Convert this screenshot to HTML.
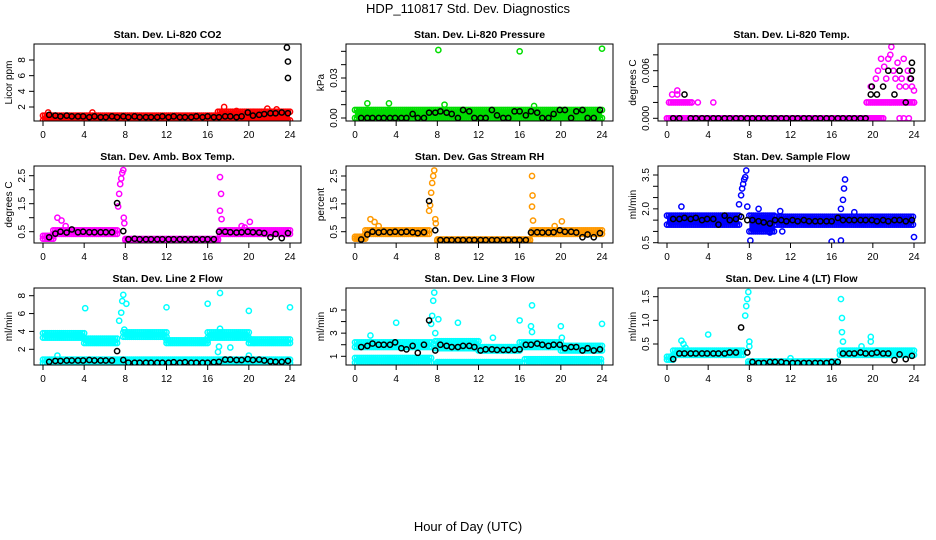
<!DOCTYPE html>
<html><head><meta charset="utf-8"><style>
html,body{margin:0;padding:0;background:#fff;}
svg{display:block;font-family:"Liberation Sans",sans-serif;}
</style></head><body>
<svg id="chart" width="936" height="540" viewBox="0 0 936 540">
<text x="468" y="13" text-anchor="middle" font-size="13">HDP_110817  Std. Dev. Diagnostics</text>
<text x="468" y="531" text-anchor="middle" font-size="13">Hour of Day (UTC)</text>
</svg>
<script>
// shared hours for black (hourly) series
const blackHours = [0.6,1.2,1.7,2.3,2.8,3.4,3.9,4.5,5.0,5.6,6.1,6.7,7.2,7.8,8.3,8.9,9.4,10.0,10.5,11.1,11.6,12.2,12.7,13.3,13.8,14.4,14.9,15.5,16.0,16.6,17.1,17.7,18.2,18.8,19.3,19.9,20.4,21.0,21.5,22.1,22.6,23.2,23.8];
const xTicks = [0,4,8,12,16,20,24];

// Panel 1 CO2
const co2Bands = [[0,17,0.3,0.9],[17,24,0.3,1.4]];
const co2Spikes = [[0.5,1.3],[4.8,1.3],[17.6,2.0],[18.8,1.5],[21.8,1.8],[22.7,1.7]];
const co2Black = [1.0,0.9,0.8,0.9,0.8,0.8,0.8,0.7,0.8,0.7,0.7,0.8,0.7,0.8,0.7,0.8,0.7,0.7,0.7,0.7,0.8,0.7,0.8,0.7,0.7,0.7,0.8,0.7,0.8,0.7,0.7,0.8,0.8,0.7,0.8,1.3,0.9,1.0,1.1,1.2,1.2,1.3,1.2];
const co2BlackExtra = [[23.7,9.6],[23.8,7.8],[23.8,5.7]];
// Panel 2 Pressure
const presBands = [[0,24,0.0,0.006]];
const presSpikes = [[8.1,0.051],[16,0.050],[24,0.052],[1.2,0.011],[3.3,0.011],[8.7,0.010],[17.4,0.009]];
const presBlack = [0,0,0,0,0,0,0,0,0,0.003,0,0,0.004,0.004,0.005,0.004,0.003,0,0.006,0.005,0,0,0,0.006,0.002,0,0,0.005,0.005,0.002,0.005,0.004,0,0,0.003,0.006,0.006,0,0.005,0.006,0,0,0.006];
const presBlackExtra = [];
// Panel 3 Temp
const tempBands = [[0,21,0,0],[0.2,2.4,0.002,0.002],[19.4,24,0.002,0.002]];
const tempSpikes = [[0.5,0.003],[1.0,0.0035],[1.0,0.003],[3.0,0.002],[4.5,0.002],[19.8,0.004],[20.3,0.005],[20.5,0.006],[20.8,0.0075],[21.1,0.0065],[21.3,0.005],[21.5,0.0075],[21.7,0.008],[21.8,0.009],[22.0,0.006],[22.2,0.005],[22.4,0.007],[22.6,0.004],[22.8,0.005],[23.0,0.0075],[23.2,0.004],[23.4,0.006],[23.6,0.005],[23.8,0.004],[24.0,0.0035],[22.6,0],[23.0,0],[23.5,0],[24,0.002]];
const tempBlack = [0,0,0.003,0,0,0,0,0,0,0,0,0,0,0,0,0,0,0,0,0,0,0,0,0,0,0,0,0,0,0,0,0,0,0,0,0.004,0.003,0.004,0.006,0.003,0.006,0.002,0.006];
const tempBlackExtra = [[23.8,0.007],[23.7,0.005],[19.8,0.003]];
// Panel 4 Amb box temp
const ambBands = [[0,1,0.25,0.35],[1,7.3,0.42,0.55],[8,17,0.2,0.24],[17.2,24,0.42,0.55]];
const ambSpikes = [[1.4,1.0],[1.8,0.9],[2.2,0.7],[7.3,1.4],[7.4,1.85],[7.5,2.2],[7.6,2.4],[7.7,2.6],[7.8,2.7],[7.85,1.0],[7.9,0.8],[17.2,2.45],[17.3,1.85],[17.2,1.25],[17.35,0.95],[19.3,0.7],[19.6,0.65],[20.1,0.85]];
const ambBlack = [0.3,0.43,0.5,0.47,0.58,0.48,0.5,0.48,0.48,0.48,0.48,0.48,1.52,0.52,0.23,0.25,0.23,0.23,0.23,0.23,0.23,0.23,0.23,0.23,0.23,0.23,0.23,0.23,0.23,0.23,0.5,0.5,0.48,0.47,0.48,0.5,0.48,0.47,0.45,0.3,0.42,0.27,0.45];
const ambBlackExtra = [];
// Panel 5 RH
const rhBands = [[0,1,0.25,0.32],[1,7.3,0.42,0.55],[8,17,0.18,0.22],[17.2,24,0.42,0.55]];
const rhSpikes = [[1.5,0.95],[1.9,0.85],[2.3,0.7],[7.2,1.25],[7.3,1.45],[7.4,1.9],[7.5,2.25],[7.6,2.5],[7.7,2.7],[7.8,0.95],[7.85,0.8],[17.2,2.5],[17.25,1.8],[17.2,1.4],[17.3,0.9],[19.4,0.7],[20.1,0.87]];
const rhBlack = [0.22,0.4,0.5,0.47,0.5,0.48,0.5,0.48,0.5,0.48,0.45,0.48,1.6,0.55,0.2,0.2,0.2,0.2,0.2,0.2,0.2,0.2,0.2,0.2,0.2,0.2,0.2,0.2,0.2,0.2,0.47,0.48,0.47,0.47,0.48,0.55,0.5,0.5,0.47,0.3,0.4,0.3,0.45];
const rhBlackExtra = [];
// Panel 6 Sample flow
const flowBands = [[0,7,1.3,1.7],[8,10.5,1.0,1.7],[10.5,24,1.3,1.65]];
const flowSpikes = [[1.4,2.1],[7.0,2.2],[7.2,2.6],[7.3,2.9],[7.4,3.1],[7.5,3.3],[7.6,3.4],[7.7,3.7],[7.8,2.1],[8.1,0.6],[8.9,2.0],[9.6,1.1],[10.0,0.95],[11.2,1.0],[11.0,1.9],[16.0,0.55],[16.9,0.6],[16.9,2.0],[17.1,2.4],[17.2,2.9],[17.3,3.3],[24.0,0.75],[18.2,1.85]];
const flowBlack = [1.55,1.55,1.6,1.55,1.6,1.5,1.55,1.55,1.3,1.7,1.5,1.55,1.65,1.5,1.5,1.45,1.4,1.35,1.5,1.5,1.45,1.5,1.45,1.5,1.45,1.45,1.45,1.45,1.45,1.6,1.5,1.5,1.5,1.5,1.5,1.5,1.45,1.5,1.45,1.5,1.5,1.45,1.5];
const flowBlackExtra = [];
// Panel 7 Line 2
const l2Bands = [[0,4,3.3,3.8],[4,7.3,2.7,3.2],[7.8,12,3.4,3.9],[12,16,2.7,3.0],[16,20,3.3,3.9],[20,24,2.7,3.1],[0,24,0.45,0.85]];
const l2Spikes = [[4.1,6.6],[7.4,5.2],[7.6,6.1],[7.7,7.4],[7.8,8.1],[8.1,7.1],[7.9,4.2],[12,6.7],[16,7.1],[17.2,8.3],[17.2,4.3],[17.1,2.3],[17.0,1.7],[18.2,2.2],[20,6.3],[24,6.7],[1.4,1.3],[20,1.3]];
const l2Black = [0.6,0.7,0.7,0.75,0.75,0.75,0.75,0.8,0.75,0.75,0.75,0.75,1.8,0.8,0.5,0.5,0.5,0.5,0.5,0.5,0.5,0.5,0.55,0.5,0.55,0.5,0.5,0.5,0.5,0.55,0.6,0.85,0.85,0.8,0.8,0.9,0.8,0.85,0.75,0.65,0.6,0.6,0.7];
const l2BlackExtra = [];
// Panel 8 Line 3
const l3Bands = [[0,7.5,1.8,2.2],[7.8,12,1.7,2.3],[12,16,1.5,1.8],[16,20,1.8,2.2],[20,24,1.5,1.9],[0,7.5,0.45,0.85],[8,16,0.35,0.5],[16.5,24,0.45,0.75]];
const l3Spikes = [[7.4,3.8],[7.5,4.5],[7.6,5.8],[7.7,6.5],[7.8,3.0],[8.1,4.2],[4,3.9],[10,3.9],[16,4.1],[17.2,5.4],[17.1,3.6],[17.2,3.1],[20,3.6],[24,3.8],[1.5,2.8],[13.4,2.6],[20.1,2.6]];
const l3Black = [1.8,1.9,2.1,2.0,2.0,2.0,2.2,1.7,1.6,1.9,1.3,2.0,4.1,1.5,2.0,1.9,1.8,1.8,1.9,1.9,1.8,1.5,1.6,1.6,1.55,1.55,1.55,1.55,1.6,2.0,2.0,2.1,2.0,1.9,2.0,2.0,1.7,1.8,1.8,1.5,1.7,1.5,1.6];
const l3BlackExtra = [];
// Panel 9 Line 4
const l4Bands = [[0,0.6,0.17,0.23],[0.6,7.5,0.27,0.36],[7.9,16.5,0.07,0.13],[16.8,24,0.27,0.36]];
const l4Spikes = [[1.4,0.57],[1.6,0.5],[1.8,0.42],[4,0.7],[7.6,1.1],[7.7,1.3],[7.8,1.45],[7.9,1.6],[8.0,0.55],[8.0,0.45],[12,0.2],[16.9,1.45],[17.0,1.05],[17.0,0.75],[17.1,0.55],[19.8,0.65],[19.8,0.55],[18.9,0.45]];
const l4Black = [0.18,0.3,0.3,0.3,0.3,0.3,0.3,0.3,0.3,0.3,0.32,0.32,0.85,0.32,0.12,0.1,0.1,0.12,0.12,0.12,0.1,0.1,0.1,0.1,0.1,0.1,0.1,0.1,0.12,0.12,0.3,0.3,0.3,0.32,0.3,0.3,0.32,0.3,0.3,0.16,0.28,0.18,0.25];
const l4BlackExtra = [];

const panels = [
 {name:'co2',title:'Stan. Dev. Li-820 CO2',ylab:'Licor ppm',col:'#ff0000',ref:[2,107,8,60],ticks:[2,4,6,8],labels:{2:'2',4:'4',6:'6',8:'8'},bands:co2Bands,spikes:co2Spikes,black:co2Black,extra:co2BlackExtra},
 {name:'pressure',title:'Stan. Dev. Li-820 Pressure',ylab:'kPa',col:'#00dd00',ref:[0,118,0.03,78],ticks:[0,0.01,0.02,0.03,0.04,0.05],labels:{0:'0.00',0.03:'0.03'},bands:presBands,spikes:presSpikes,black:presBlack,extra:presBlackExtra},
 {name:'temp',title:'Stan. Dev. Li-820 Temp.',ylab:'degrees C',col:'#ff00ff',ref:[0,118.3,0.006,70.7],ticks:[0,0.002,0.004,0.006,0.008],labels:{0:'0.000',0.006:'0.006'},bands:tempBands,spikes:tempSpikes,black:tempBlack,extra:tempBlackExtra},
 {name:'amb-box-temp',title:'Stan. Dev. Amb. Box Temp.',ylab:'degrees C',col:'#ff00ff',ref:[0.5,231.7,2.5,175.7],ticks:[0.5,1,1.5,2,2.5],labels:{0.5:'0.5',1.5:'1.5',2.5:'2.5'},bands:ambBands,spikes:ambSpikes,black:ambBlack,extra:ambBlackExtra},
 {name:'gas-stream-rh',title:'Stan. Dev. Gas Stream RH',ylab:'percent',col:'#ff9900',ref:[0.5,231.7,2.5,176],ticks:[0.5,1,1.5,2,2.5],labels:{0.5:'0.5',1.5:'1.5',2.5:'2.5'},bands:rhBands,spikes:rhSpikes,black:rhBlack,extra:rhBlackExtra},
 {name:'sample-flow',title:'Stan. Dev. Sample Flow',ylab:'ml/min',col:'#0000ff',ref:[0.5,242.7,3.5,175],ticks:[0.5,1,1.5,2,2.5,3,3.5],labels:{0.5:'0.5',2:'2.0',3.5:'3.5'},bands:flowBands,spikes:flowSpikes,black:flowBlack,extra:flowBlackExtra},
 {name:'line2-flow',title:'Stan. Dev. Line 2 Flow',ylab:'ml/min',col:'#00ffff',ref:[2,349.3,8,295.7],ticks:[2,4,6,8],labels:{2:'2',4:'4',6:'6',8:'8'},bands:l2Bands,spikes:l2Spikes,black:l2Black,extra:l2BlackExtra},
 {name:'line3-flow',title:'Stan. Dev. Line 3 Flow',ylab:'ml/min',col:'#00ffff',ref:[1,356.3,5,310],ticks:[1,2,3,4,5],labels:{1:'1',3:'3',5:'5'},bands:l3Bands,spikes:l3Spikes,black:l3Black,extra:l3BlackExtra},
 {name:'line4-flow',title:'Stan. Dev. Line 4 (LT) Flow',ylab:'ml/min',col:'#00ffff',ref:[0.5,344,1.5,296.7],ticks:[0.5,1,1.5],labels:{0.5:'0.5',1:'1.0',1.5:'1.5'},bands:l4Bands,spikes:l4Spikes,black:l4Black,extra:l4BlackExtra}
];

const svg = document.getElementById('chart');
const NS = 'http://www.w3.org/2000/svg';
function mk(tag, attrs, parent){const e=document.createElementNS(NS,tag);for(const k in attrs)e.setAttribute(k,attrs[k]);(parent||svg).appendChild(e);return e;}

panels.forEach((p,i)=>{
  const c=i%3, r=Math.floor(i/3);
  const L=34+312*c, R=301+312*c, T=44+122*r, B=121+122*r;
  const xs=h=>43+312*c+h/24*247;
  const ys=v=>p.ref[1]+(v-p.ref[0])*(p.ref[3]-p.ref[1])/(p.ref[2]-p.ref[0]);
  const g=mk('g',{});
  
  
  const cp=mk('clipPath',{id:'cp'+i},g); mk('rect',{x:L,y:T,width:R-L,height:B-T},cp);
  const t=mk('text',{x:(L+R)/2,y:T-6,'text-anchor':'middle','font-size':10.5,'font-weight':'bold'},g);
  t.textContent=p.title;
  
  
  const yl=mk('text',{x:0,y:0,transform:`translate(${L-22},${(T+B)/2}) rotate(-90)`,'text-anchor':'middle','font-size':10},g);
  yl.textContent=p.ylab;
  
  
  const plot=mk('g',{'clip-path':`url(#cp${i})`},g);
  
  
  p.bands.forEach(b=>{
    const y1=ys(b[3]), y2=ys(b[2]);
    const band=mk('rect',{x:xs(b[0]),y:y1,width:xs(b[1])-xs(b[0]),height:Math.max(y2-y1,0),fill:p.col},plot);
    
    
    for(let h=b[0]; h<=b[1]+1e-9; h+=0.2){
      [b[2],b[3]].forEach(v=>{
        mk('circle',{cx:xs(h),cy:ys(v),r:2.6,fill:'none',stroke:p.col,'stroke-width':1.5},plot);
      });
    }
  });
  p.spikes.forEach(s=>{
    const ci=mk('circle',{cx:xs(s[0]),cy:ys(s[1]),r:2.6,fill:'none',stroke:p.col,'stroke-width':1.5},plot);
    
    
  });
  p.black.forEach((v,k)=>{
    const ci=mk('circle',{cx:xs(blackHours[k]),cy:ys(v),r:2.6,fill:'none',stroke:'#000','stroke-width':1.5},plot);
    
    
  });
  p.extra.forEach(s=>{
    const ci=mk('circle',{cx:xs(s[0]),cy:ys(s[1]),r:2.6,fill:'none',stroke:'#000','stroke-width':1.5},plot);
    
    
  });
  const box=mk('rect',{x:L,y:T,width:R-L,height:B-T,fill:'none',stroke:'#000','stroke-width':1},g);
  
  
  xTicks.forEach(h=>{
    mk('line',{x1:xs(h),x2:xs(h),y1:B,y2:B+5,stroke:'#000'},g);
    const tl=mk('text',{x:xs(h),y:B+17,'text-anchor':'middle','font-size':10},g);
    tl.textContent=h;
    
    
  });
  p.ticks.forEach(v=>{
    const y=ys(v);
    mk('line',{x1:L-5,x2:L,y1:y,y2:y,stroke:'#000'},g);
    if(p.labels[v]!==undefined){
      const tl=mk('text',{x:0,y:0,transform:`translate(${L-9},${y}) rotate(-90)`,'text-anchor':'middle','font-size':10},g);
      tl.textContent=p.labels[v];
      
      
    }
  });
});
</script>
</body></html>
